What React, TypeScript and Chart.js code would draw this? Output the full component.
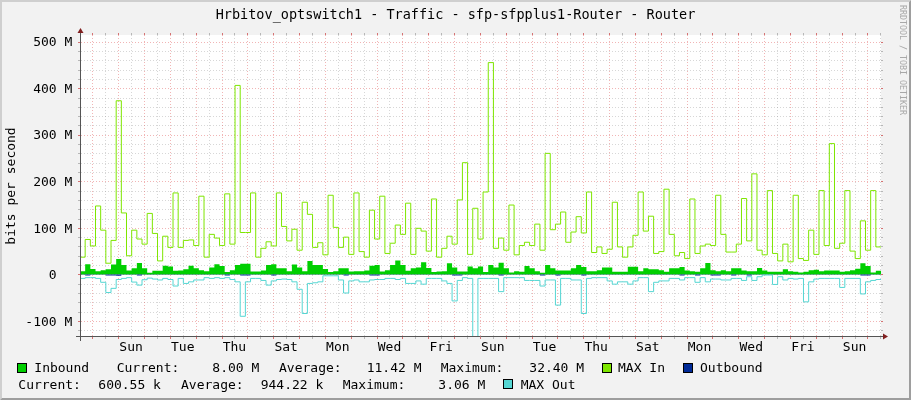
import React, { useEffect, useRef } from 'react';
import { Chart, registerables } from 'chart.js';

Chart.register(...registerables);

// ---- time axis (hours since graph start) ----
const STEP_HOURS = 4.8;
const SPAN_HOURS = 744;
const FIRST_MIDNIGHT_HOUR = 11.45;
const Y_MIN = -134.5;
const Y_MAX = 514.3;

const dayLabels = ['Sun', 'Tue', 'Thu', 'Sat', 'Mon', 'Wed', 'Fri', 'Sun', 'Tue', 'Thu', 'Sat', 'Mon', 'Wed', 'Fri', 'Sun'];
const yMajorValues = [-100, 0, 100, 200, 300, 400, 500];
const yMajorLabels = ['-100 M', '0  ', '100 M', '200 M', '300 M', '400 M', '500 M'];
const yMinorValues = [-120, -80, -60, -40, -20, 20, 40, 60, 80, 120, 140, 160, 180, 220, 240, 260, 280, 320, 340, 360, 380, 420, 440, 460, 480];

// ---- series (M bits/s), one value per 4.8 h step ----
const maxIn = [
  37, 75, 61, 147, 95, 24, 73, 373, 132, 40,
  95, 76, 65, 131, 88, 29, 82, 58, 175, 58,
  73, 74, 62, 168, 37, 86, 78, 62, 173, 65,
  406, 90, 90, 175, 37, 56, 70, 61, 175, 103,
  72, 97, 52, 155, 129, 58, 68, 42, 170, 101,
  58, 80, 43, 175, 49, 37, 138, 76, 168, 45,
  67, 106, 86, 153, 43, 99, 93, 50, 162, 37,
  56, 82, 65, 160, 240, 43, 142, 76, 177, 455,
  56, 78, 52, 149, 42, 62, 69, 62, 108, 52,
  260, 96, 108, 134, 69, 91, 124, 89, 177, 47,
  59, 45, 54, 155, 59, 37, 59, 84, 177, 93,
  125, 45, 49, 183, 86, 40, 47, 34, 162, 45,
  61, 65, 62, 170, 86, 48, 48, 65, 163, 72,
  216, 52, 42, 180, 45, 29, 65, 27, 170, 34,
  30, 95, 43, 180, 62, 281, 56, 67, 180, 50,
  34, 115, 52, 180, 59,
];

const inbound = [
  7, 22, 11.5, 7, 9, 11, 21.5, 33, 20, 8.5,
  13, 24.5, 13, 3.6, 8, 8, 18.7, 17, 8, 8.5,
  11, 18.7, 13, 9, 6.5, 15, 22, 18, 5, 9,
  20, 23, 23, 6, 6, 8.5, 20, 22, 13, 13,
  7, 21.5, 15, 7, 29, 20, 20, 11.5, 5, 7,
  13, 13, 6, 7, 7, 8.5, 18.7, 20, 6, 9,
  20, 30, 20, 8, 13, 15, 26, 14, 5, 6,
  7, 23.7, 15, 6, 6, 17, 13, 17, 5, 20,
  15, 25, 13, 4.3, 7, 5.8, 18, 13, 7, 3.6,
  20, 13, 8.6, 8.6, 8.6, 13, 20, 16, 7, 7,
  9, 15, 15, 5.8, 5.8, 5.8, 16.5, 16.5, 7, 13,
  10.8, 10.8, 9, 5.8, 13, 13, 16, 8.6, 7, 5.8,
  13, 24.5, 9, 7, 9, 7, 13, 13, 8.6, 6.5,
  7, 14, 8.6, 5.8, 5.8, 5.8, 10.8, 7, 5.8, 4.3,
  5.8, 9, 10, 7, 8.6, 8.6, 8.6, 5.8, 7, 9,
  12, 24, 18, 4.3, 8,
];

const outbound = [
  -0.6, -2.4, -0.6, -0.6, -0.6, -2.2, -2.6, -3.06, -0.6, -0.6,
  -0.6, -2.3, -0.6, -0.6, -0.6, -0.6, -0.6, -0.6, -0.6, -0.6,
  -0.6, -0.6, -0.6, -0.6, -0.6, -0.6, -0.6, -0.6, -2.2, -0.6,
  -0.6, -2.5, -2.3, -0.6, -0.6, -0.6, -0.6, -2.2, -0.6, -0.6,
  -0.6, -0.6, -0.6, -0.6, -0.6, -0.6, -0.6, -0.6, -0.6, -0.6,
  -0.6, -2.2, -0.6, -0.6, -0.6, -0.6, -2.4, -2.4, -0.6, -0.6,
  -0.6, -0.6, -0.6, -0.6, -0.6, -0.6, -0.6, -0.6, -0.6, -0.6,
  -0.6, -0.6, -2.4, -2.4, -0.6, -0.6, -0.6, -0.6, -0.6, -0.6,
  -0.6, -2.2, -0.6, -0.6, -0.6, -0.6, -0.6, -0.6, -0.6, -2.2,
  -0.6, -0.6, -2.2, -0.6, -0.6, -0.6, -0.6, -2.2, -0.6, -0.6,
  -0.6, -0.6, -0.6, -0.6, -0.6, -0.6, -0.6, -0.6, -0.6, -0.6,
  -0.6, -0.6, -0.6, -0.6, -0.6, -0.6, -2.2, -0.6, -0.6, -2.2,
  -0.6, -0.6, -2.2, -2.2, -0.6, -0.6, -2.2, -0.6, -0.6, -2.2,
  -0.6, -0.6, -0.6, -0.6, -0.6, -0.6, -0.6, -0.6, -0.6, -0.6,
  -0.6, -0.6, -0.6, -0.6, -0.6, -0.6, -0.6, -0.6, -0.6, -0.6,
  -0.6, -2.4, -2.4, -0.6, -0.6,
];

const maxOut = [
  -8.6, -7, -7, -8.6, -17, -39, -30, -11, -8.6, -7,
  -16.5, -23, -11.5, -8, -10, -12, -8.6, -11, -25, -8.6,
  -19.4, -16, -12, -12, -7, -8.6, -7, -8.6, -7, -11,
  -16, -90, -16, -8.6, -8.6, -13, -23, -14, -11, -10,
  -11, -16, -32, -84, -19.4, -18, -16, -3, -3, -3,
  -12, -40, -14, -12, -16, -16, -12, -11, -11, -8.6,
  -8.6, -11, -8.6, -19.4, -19.4, -14, -21, -8.6, -8.6, -8.6,
  -14, -19.4, -57, -13, -7, -8.6, -140, -8.6, -8.6, -8.6,
  -8.6, -37, -7, -7, -7, -7, -13, -13, -13, -25,
  -12, -12, -66, -8.6, -8.6, -12, -12, -84, -8.6, -7,
  -7, -7, -14, -21, -16, -16, -21, -14, -7, -7,
  -37, -17, -14, -14, -8.6, -8.6, -12, -7, -7, -17,
  -7, -16, -10, -10, -12, -12, -8.6, -8.6, -13, -5,
  -13, -5, -1.4, -1.4, -21.6, -5, -12, -8.6, -10, -8.6,
  -59, -16, -10, -8.6, -8.6, -8.6, -8.6, -28, -8.6, -8.6,
  -8.6, -42, -16, -13, -11,
];

// ---- texts ----
const titleText = 'Hrbitov_optswitch1 - Traffic - sfp-sfpplus1-Router - Router';
const yTitleText = 'bits per second';
const watermarkText = 'RRDTOOL / TOBI OETIKER';

type Piece = [string, number];
const legendLine1: Piece[] = [
  ['Inbound', 34.3], ['Current:', 116.7], ['8.00 M', 212.3], ['Average:', 279], ['11.42 M', 366.7],
  ['Maximum:', 440.7], ['32.40 M', 529.3], ['MAX In', 618], ['Outbound', 700],
];
const legendLine2: Piece[] = [
  ['Current:', 18.3], ['600.55 k', 98.3], ['Average:', 181], ['944.22 k', 260.7],
  ['Maximum:', 342.7], ['3.06 M', 438.3], ['MAX Out', 520.7],
];

const COLORS = {
  inbound: '#00CF00',
  maxIn: '#7EE600',
  outbound: '#002A97',
  maxOut: '#55D6D3',
};

// swatch: [color, x, y]
const swatches: [string, number, number][] = [
  [COLORS.inbound, 17, 363],
  [COLORS.maxIn, 602, 363],
  [COLORS.outbound, 683, 363],
  [COLORS.maxOut, 503, 379],
];

const FONT = '"DejaVu Sans Mono", monospace';

function toSteps(values: number[]) {
  const pts = values.map((v, i) => ({ x: i * STEP_HOURS, y: v }));
  pts.push({ x: SPAN_HOURS, y: values[values.length - 1] });
  return pts;
}

const rrdPlugin = {
  id: 'rrdLook',
  beforeDraw(chart: any) {
    const { ctx, width, height, chartArea: a } = chart;
    ctx.save();
    ctx.fillStyle = '#F2F2F2';
    ctx.fillRect(0, 0, width, height);
    ctx.fillStyle = '#CFCFCF';
    ctx.beginPath();
    ctx.moveTo(0, 0); ctx.lineTo(width, 0); ctx.lineTo(width - 2, 2); ctx.lineTo(2, 2);
    ctx.lineTo(2, height - 2); ctx.lineTo(0, height); ctx.closePath(); ctx.fill();
    ctx.fillStyle = '#9E9E9E';
    ctx.beginPath();
    ctx.moveTo(width, height); ctx.lineTo(0, height); ctx.lineTo(2, height - 2); ctx.lineTo(width - 2, height - 2);
    ctx.lineTo(width - 2, 2); ctx.lineTo(width, 0); ctx.closePath(); ctx.fill();
    ctx.fillStyle = '#FFFFFF';
    ctx.fillRect(a.left, a.top, a.right - a.left, a.bottom - a.top);
    ctx.restore();
  },
  beforeDatasetsDraw(chart: any) {
    const { ctx, chartArea: a } = chart;
    const xs = chart.scales.x;
    const ys = chart.scales.y;
    const minorCol = 'rgba(143,143,143,0.36)';
    const majorCol = 'rgba(222,79,79,0.42)';
    const minorTick = 'rgba(143,143,143,0.6)';
    const majorTick = 'rgba(200,60,60,0.7)';
    ctx.save();
    ctx.lineWidth = 1;
    const hLine = (v: number, col: string, tick: string) => {
      const y = Math.round(ys.getPixelForValue(v)) + 0.5;
      ctx.strokeStyle = col;
      ctx.setLineDash([1, 2]);
      ctx.beginPath(); ctx.moveTo(a.left + 1, y); ctx.lineTo(a.right, y); ctx.stroke();
      ctx.setLineDash([]);
      ctx.strokeStyle = tick;
      ctx.beginPath(); ctx.moveTo(a.left - 2, y); ctx.lineTo(a.left, y);
      ctx.moveTo(a.right, y); ctx.lineTo(a.right + 2, y); ctx.stroke();
    };
    const vLine = (t: number, col: string, tick: string) => {
      const x = Math.round(xs.getPixelForValue(t)) + 0.5;
      ctx.strokeStyle = col;
      ctx.setLineDash([1, 2]);
      ctx.beginPath(); ctx.moveTo(x, a.top); ctx.lineTo(x, a.bottom); ctx.stroke();
      ctx.setLineDash([]);
      ctx.strokeStyle = tick;
      ctx.beginPath(); ctx.moveTo(x, a.top - 2); ctx.lineTo(x, a.top);
      ctx.moveTo(x, a.bottom); ctx.lineTo(x, a.bottom + 2); ctx.stroke();
    };
    yMinorValues.forEach((v) => hLine(v, minorCol, minorTick));
    for (let k = -1; k <= 32; k++) {
      const noon = FIRST_MIDNIGHT_HOUR + 12 + 24 * k;
      if (noon > 0 && noon < SPAN_HOURS) vLine(noon, minorCol, minorTick);
    }
    yMajorValues.forEach((v) => hLine(v, majorCol, majorTick));
    for (let k = 0; k <= 31; k++) {
      const mid = FIRST_MIDNIGHT_HOUR + 24 * k;
      if (mid > 0 && mid < SPAN_HOURS) vLine(mid, majorCol, majorTick);
    }
    ctx.restore();
  },
  afterDraw(chart: any) {
    const { ctx, chartArea: a, width } = chart;
    const xs = chart.scales.x;
    const ys = chart.scales.y;
    ctx.save();
    // axes
    ctx.strokeStyle = '#555555';
    ctx.lineWidth = 1;
    const ay = a.bottom - 0.5;
    const ax = a.left + 0.5;
    ctx.beginPath();
    ctx.moveTo(a.left - 4, ay); ctx.lineTo(a.right + 4, ay);
    ctx.moveTo(ax, a.bottom + 4); ctx.lineTo(ax, a.top - 4);
    ctx.stroke();
    // arrows
    ctx.fillStyle = '#801F1F';
    ctx.beginPath();
    ctx.moveTo(a.right + 2, ay - 3); ctx.lineTo(a.right + 2, ay + 3); ctx.lineTo(a.right + 7, ay); ctx.closePath(); ctx.fill();
    ctx.beginPath();
    ctx.moveTo(ax - 3, a.top - 2); ctx.lineTo(ax + 3, a.top - 2); ctx.lineTo(ax, a.top - 7); ctx.closePath(); ctx.fill();

    ctx.fillStyle = '#000000';
    // title
    ctx.font = `13.5px ${FONT}`;
    ctx.textAlign = 'center';
    ctx.textBaseline = 'alphabetic';
    ctx.fillText(titleText, width / 2, 19.3);

    // y labels
    ctx.font = `13px ${FONT}`;
    ctx.textAlign = 'right';
    yMajorValues.forEach((v, i) => {
      const y = ys.getPixelForValue(v);
      ctx.fillText(yMajorLabels[i], 72.3, y + 4.7);
    });

    // x labels
    ctx.textAlign = 'center';
    dayLabels.forEach((lab, k) => {
      const t = FIRST_MIDNIGHT_HOUR + 36 + 48 * k;
      ctx.fillText(lab, xs.getPixelForValue(t), 351.3);
    });

    // y title
    ctx.save();
    ctx.translate(14.5, (a.top + a.bottom) / 2);
    ctx.rotate(-Math.PI / 2);
    ctx.textAlign = 'center';
    ctx.fillText(yTitleText, 0, 0);
    ctx.restore();

    // watermark
    ctx.save();
    ctx.fillStyle = '#A8A8A8';
    ctx.font = `8.3px ${FONT}`;
    ctx.translate(899.5, 5);
    ctx.rotate(Math.PI / 2);
    ctx.textAlign = 'left';
    ctx.fillText(watermarkText, 0, 0);
    ctx.restore();

    // legend
    ctx.textAlign = 'left';
    ctx.font = `13px ${FONT}`;
    legendLine1.forEach(([s, x]) => ctx.fillText(s, x, 372.2));
    legendLine2.forEach(([s, x]) => ctx.fillText(s, x, 388.8));
    swatches.forEach(([c, x, y]) => {
      ctx.fillStyle = '#000000';
      ctx.fillRect(x, y, 10, 10);
      ctx.fillStyle = c;
      ctx.fillRect(x + 1, y + 1, 8, 8);
    });
    ctx.restore();
  },
};

export default function App() {
  const ref = useRef<HTMLCanvasElement>(null);
  useEffect(() => {
    const canvas = ref.current;
    if (!canvas) return;
    const chart = new Chart(canvas, {
      type: 'line',
      data: {
        datasets: [
          {
            label: 'MAX Out', data: toSteps(maxOut), stepped: true, borderColor: COLORS.maxOut,
            borderWidth: 1, pointRadius: 0, fill: false,
          },
          {
            label: 'MAX In', data: toSteps(maxIn), stepped: true, borderColor: COLORS.maxIn,
            borderWidth: 1, pointRadius: 0, fill: false,
          },
          {
            label: 'Outbound', data: toSteps(outbound), stepped: true, borderColor: COLORS.outbound,
            backgroundColor: COLORS.outbound, borderWidth: 0, pointRadius: 0, fill: 'origin',
          },
          {
            label: 'Inbound', data: toSteps(inbound), stepped: true, borderColor: COLORS.inbound,
            backgroundColor: COLORS.inbound, borderWidth: 0, pointRadius: 0, fill: 'origin',
          },
        ],
      } as any,
      options: {
        responsive: false,
        animation: false,
        devicePixelRatio: 1,
        layout: { padding: { left: 80, top: 35, right: 30, bottom: 63 } },
        scales: {
          x: { type: 'linear', min: 0, max: SPAN_HOURS, display: false },
          y: { type: 'linear', min: Y_MIN, max: Y_MAX, display: false },
        },
        plugins: { legend: { display: false }, tooltip: { enabled: false } },
        elements: { line: { tension: 0 } },
      } as any,
      plugins: [rrdPlugin],
    });
    return () => chart.destroy();
  }, []);
  return (
    <div style={{ position: 'fixed', left: 0, top: 0, width: 911, height: 400 }}>
      <canvas ref={ref} width={911} height={400} style={{ display: 'block', width: 911, height: 400 }} />
    </div>
  );
}
